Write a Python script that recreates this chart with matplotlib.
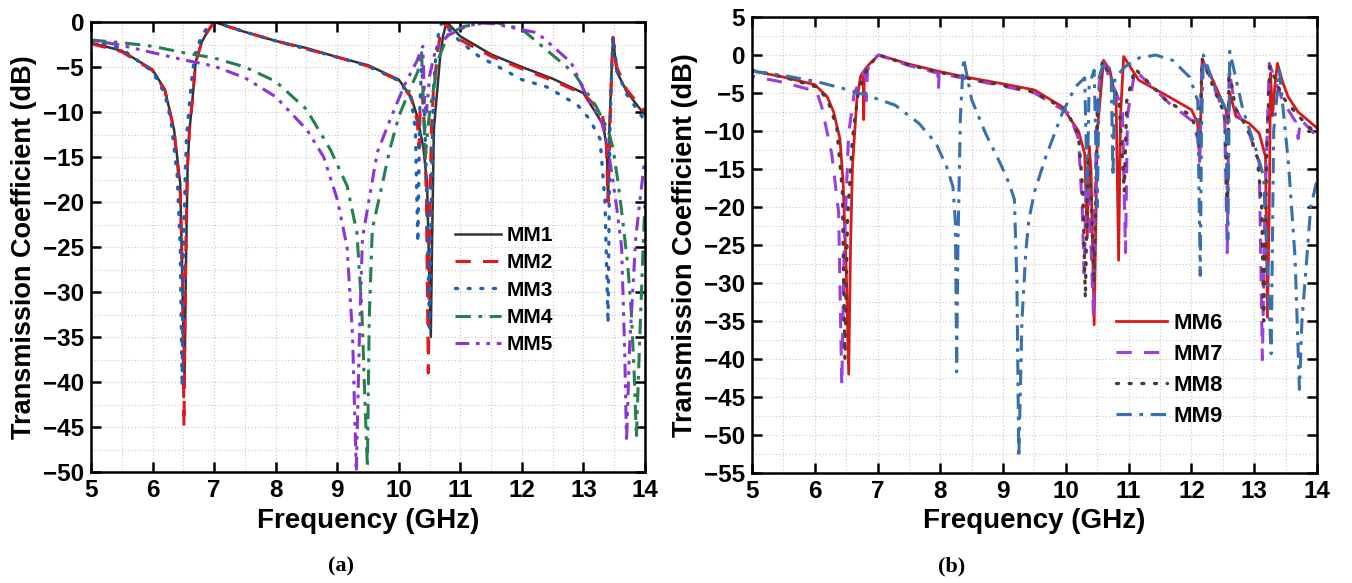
import matplotlib
matplotlib.use("Agg")
import matplotlib.pyplot as plt
from matplotlib.ticker import MultipleLocator

plt.rcParams['font.family'] = ['Liberation Sans', 'DejaVu Sans']
plt.rcParams['font.weight'] = 'bold'

# ---------------- panel (a) ----------------
f_mm1 = [5.0, 5.5, 6.0, 6.2, 6.35, 6.45, 6.52, 6.54, 6.57, 6.6, 6.65, 6.7, 6.8, 6.9, 7.0, 7.5, 8.0,
         8.5, 9.0, 9.5, 10.0, 10.2, 10.3, 10.4, 10.46, 10.52, 10.54, 10.57, 10.6, 10.62, 10.67, 10.72,
         10.78, 11.0, 11.5, 12.0, 12.5, 13.0, 13.32, 13.38, 13.40, 13.42, 13.46, 13.48, 13.54, 13.7,
         13.9, 14.0]
db_mm1 = [-2.3, -3.2, -5.3, -7.5, -12, -18, -40, -28, -16, -12, -8.5, -4.5, -2.2, -1, 0, -1.1, -2.1,
          -2.9, -3.9, -4.8, -6.4, -8.3, -10.5, -14, -18, -35, -25, -12, -9.5, -8, -4, -1.5,
          0, -1.6, -3.6, -5.0, -6.3, -7.9, -11.4, -14, -20, -12, -5, -1.7, -5.5, -7.7,
          -9.5, -10.3]

f_mm2 = [5.0, 5.5, 6.0, 6.2, 6.35, 6.45, 6.49, 6.51, 6.53, 6.56, 6.6, 6.65, 6.7, 6.8, 6.9, 7.0, 7.5,
         8.0, 8.5, 9.0, 9.5, 10.0, 10.2, 10.3, 10.33, 10.35, 10.38, 10.42, 10.45, 10.48, 10.5, 10.53,
         10.56, 10.62, 10.67, 10.72, 11.0, 11.5, 12.0, 12.5, 13.0, 13.3, 13.37, 13.40, 13.43, 13.46,
         13.48, 13.54, 13.7, 14.0]
db_mm2 = [-2.4, -3.3, -5.4, -7.6, -12, -19, -30, -45, -30, -17, -12, -8.5, -4.5, -2.2, -1, 0, -1.1,
          -2.1, -3.0, -3.9, -4.9, -6.5, -8.4, -11, -14, -9, -8, -12, -20, -39, -22, -12,
          -8, -4, -1.5, 0, -2.0, -3.8, -5.2, -6.5, -8.0, -10, -13, -20, -12, -5,
          -1.7, -5, -7.5, -10]

f_mm3 = [5.0, 5.5, 6.0, 6.2, 6.3, 6.4, 6.45, 6.48, 6.5, 6.55, 6.6, 6.65, 6.7, 6.8, 6.9, 7.0, 7.5, 8.0,
         8.5, 9.0, 9.5, 10.0, 10.2, 10.27, 10.31, 10.34, 10.37, 10.41, 10.45, 10.5, 10.53, 10.56,
         10.6, 10.65, 10.7, 11.0, 11.3, 12.0, 12.4, 12.9, 13.1, 13.27, 13.35, 13.40, 13.43, 13.46,
         13.48, 13.55, 13.7, 14.0]
db_mm3 = [-2.0, -3.0, -5.5, -8, -11, -17, -25, -40.5, -25, -13, -9, -5.5, -3.3, -1.5, -0.5, 0, -1.1,
          -2.1, -3.0, -3.9, -4.9, -6.5, -8.5, -12, -24.5, -10, -5, -8, -18, -34, -20, -8,
          -4, -1, 0, -2.2, -3.8, -6.4, -7.2, -9.2, -10.8, -13, -20, -33.5, -12, -5,
          -1.7, -5.5, -8, -11]

f_mm4 = [5.0, 5.5, 6.0, 6.5, 7.0, 7.5, 8.0, 8.5, 8.89, 9.16, 9.32, 9.4, 9.45, 9.49, 9.52, 9.57, 9.7,
         9.86, 10.0, 10.18, 10.31, 10.37, 10.4, 10.43, 10.5, 10.65, 10.8, 11.05, 11.3, 11.6, 12.0,
         12.4, 12.85, 13.2, 13.4, 13.48, 13.56, 13.62, 13.72, 13.78, 13.83, 13.86, 13.91, 13.97, 14.0]
db_mm4 = [-2.0, -2.3, -2.7, -3.4, -4.0, -5.0, -6.6, -9.7, -14.2, -18.2, -23.4, -32, -42, -49.5, -33,
          -23, -19, -14, -10.5, -7.5, -5.5, -3.2, -9, -15, -10, -4, -1.4, -0.5, -0.2, -0.1, -0.8,
          -3.1, -5.7, -9.3, -12, -14, -17.7, -21, -27, -32.5, -40, -46.2, -36, -25, -20]

f_mm5 = [5.0, 5.01, 5.5, 6.0, 6.5, 7.0, 7.5, 8.0, 8.51, 8.78, 9.0, 9.16, 9.25, 9.31, 9.36, 9.41, 9.65,
         9.88, 10.1, 10.29, 10.39, 10.42, 10.45, 10.5, 10.6, 10.8, 11.06, 11.3, 11.55, 12.25, 12.8,
         13.0, 13.3, 13.4, 13.54, 13.62, 13.67, 13.70, 13.75, 13.85, 13.91, 14.0]
db_mm5 = [-5.0, -2.0, -2.6, -3.4, -4.2, -4.9, -6.2, -8.3, -12, -15, -19.7, -25, -35, -50, -35, -24,
          -14.5, -10.5, -6.9, -4.4, -2.7, -9, -10, -6, -3, -1.5, -0.6, -0.1, -0.2, -1.2, -4.5,
          -7.5, -11.2, -14, -20.6, -25, -36.6, -46.6, -36, -24, -20.3, -15]

# ---------------- panel (b) ----------------
f_mm6 = [5.0, 5.5, 6.0, 6.2, 6.3, 6.4, 6.45, 6.5, 6.54, 6.57, 6.6, 6.67, 6.73, 6.77, 6.78, 6.79, 6.88,
         7.02, 7.5, 8.0, 8.4, 9.0, 9.5, 9.94, 10.2, 10.3, 10.34, 10.37, 10.4, 10.45, 10.5, 10.6,
         10.7, 10.8, 10.84, 10.87, 10.92, 11.16, 11.64, 12.0, 12.1, 12.13, 12.17, 12.34, 12.55, 12.58,
         12.61, 12.71, 12.92, 13.08, 13.18, 13.21, 13.24, 13.26, 13.29, 13.33, 13.37, 13.45, 13.54,
         13.7, 14.0]
db_mm6 = [-2.1, -2.9, -3.9, -5.5, -7.5, -11, -16.5, -28, -42, -25, -14.7, -5.9, -2.8, -2.2, -8.5, -2.0,
          -1.1, 0, -1.2, -2.2, -2.9, -3.8, -4.6, -6.8, -10, -13, -24, -12, -15, -35.5, -10, -0.7,
          -2, -6, -27, -8, -0.2, -3.3, -5.5, -7.2, -9, -14, -0.7, -3.3, -7.2, -9,
          -5, -8.1, -9, -10.3, -13.4, -34.5, -20, -2.4, -8, -4, -1.1, -3.5, -5.5,
          -7.5, -9.6]

f_mm7 = [5.0, 5.01, 5.5, 6.03, 6.11, 6.27, 6.38, 6.43, 6.47, 6.54, 6.63, 6.8, 6.82, 6.84, 6.92, 7.02,
         7.5, 7.96, 7.97, 7.98, 8.4, 9.0, 9.5, 10.05, 10.2, 10.26, 10.29, 10.33, 10.38, 10.44, 10.46,
         10.5, 10.58, 10.7, 10.9, 10.95, 10.98, 11.1, 11.64, 12.0, 12.1, 12.13, 12.17, 12.44, 12.53,
         12.57, 12.6, 12.7, 12.92, 13.08, 13.13, 13.17, 13.24, 13.45, 13.66, 13.7, 13.74, 14.0]
db_mm7 = [-4.5, -2.8, -3.6, -4.8, -6.8, -13, -20.7, -43.5, -25, -10.3, -5, -2, -6, -2, -0.5, 0,
          -1.4, -2.4, -4.5, -2.4, -3.1, -4.1, -5.0, -7.7, -11, -20, -28.7, -15, -20, -34.5, -20,
          -6, -0.7, -3, -7, -26, -8, -2, -6.3, -8.6, -11, -14, -0.4, -5.9, -8.4,
          -26, -2, -7, -10.3, -14.2, -40.1, -20, -1.1, -6, -8.8, -11, -8.5, -10.7]

f_mm8 = [5.0, 5.5, 6.03, 6.2, 6.35, 6.44, 6.48, 6.52, 6.6, 6.7, 6.85, 7.02, 7.5, 8.0, 8.4, 9.0, 9.5,
         10.0, 10.2, 10.27, 10.31, 10.35, 10.4, 10.45, 10.5, 10.58, 10.7, 10.85, 10.93, 10.97, 11.1,
         11.6, 12.0, 12.1, 12.13, 12.17, 12.4, 12.53, 12.57, 12.6, 12.7, 12.9, 13.05, 13.12, 13.15,
         13.2, 13.25, 13.45, 13.7, 14.0]
db_mm8 = [-2.0, -2.9, -4.2, -5.8, -9.5, -18, -40, -22, -11, -4.5, -1.5, 0, -1.3, -2.3, -3.0, -4.0, -4.9,
          -7.2, -10.5, -18, -32, -14, -18, -30, -8, -0.8, -2.5, -6.5, -18, -6, -1.8,
          -6, -8, -10.5, -12, -0.5, -5.3, -7.8, -20, -2, -7, -9.8, -13.5, -20, -35,
          -12, -1.5, -5.5, -8, -10.5]

f_mm9 = [5.0, 5.5, 6.03, 6.54, 6.9, 7.28, 7.66, 7.93, 8.1, 8.2, 8.24, 8.26, 8.28, 8.32, 8.37, 8.5,
         8.72, 8.98, 9.1, 9.18, 9.22, 9.25, 9.3, 9.36, 9.41, 9.5, 9.68, 9.94, 10.15, 10.3, 10.34,
         10.37, 10.45, 10.5, 10.53, 10.6, 10.72, 10.75, 10.78, 10.95, 11.16, 11.43, 11.7, 11.97, 12.1,
         12.14, 12.16, 12.19, 12.39, 12.55, 12.58, 12.61, 12.82, 13.03, 13.15, 13.22, 13.27, 13.31,
         13.4, 13.55, 13.65, 13.72, 13.76, 13.9, 14.0]
db_mm9 = [-2.1, -2.7, -3.5, -4.6, -5.5, -6.6, -9, -11.6, -14.7, -17.3, -22, -41.7, -25, -8, -0.4,
          -5.9, -10.3, -14.7, -17, -19, -30, -53, -35, -26, -21.7, -18, -13.4, -7.7, -4.2, -3, -18,
          -4, -2, -20, -3, -1, -2, -16, -3, -1.5, -0.4, 0, -0.7, -2.9, -6,
          -29, -10, 0, -4.6, -7.2, -24.3, 0.5, -7.2, -12.5, -16, -30, -39.3, -10,
          -2, -14.7, -26.6, -44, -35, -20, -16.5]

W, H = 1352, 583
fig = plt.figure(figsize=(W / 100, H / 100), dpi=100)

ax1 = fig.add_axes([91 / W, 1 - 472 / H, 554 / W, 450 / H])
ax2 = fig.add_axes([752 / W, 1 - 473 / H, 565 / W, 456 / H])

ax1.plot(f_mm1, db_mm1, color='#333333', lw=1.8, label='MM1')
ax1.plot(f_mm2, db_mm2, color='#e3161c', lw=2.2, ls=(0, (5, 4)), label='MM2')
ax1.plot(f_mm3, db_mm3, color='#1f5fb4', lw=2.4, ls=(0, (0.6, 3.2)), dash_capstyle='round', label='MM3')
ax1.plot(f_mm4, db_mm4, color='#25804f', lw=2.2, ls=(0, (5, 2.5, 1.2, 2.5)), label='MM4')
ax1.plot(f_mm5, db_mm5, color='#8b35d9', lw=2.2, ls=(0, (4.5, 2.2, 1.2, 2.2, 1.2, 2.2)), label='MM5')

ax2.plot(f_mm6, db_mm6, color='#d7191c', lw=2.0, label='MM6')
ax2.plot(f_mm7, db_mm7, color='#9a3fe0', lw=2.2, ls=(0, (5, 4)), label='MM7')
ax2.plot(f_mm8, db_mm8, color='#4f3a33', lw=2.4, ls=(0, (0.6, 3.2)), dash_capstyle='round', label='MM8')
ax2.plot(f_mm9, db_mm9, color='#3671ad', lw=2.2, ls=(0, (5, 2.5, 1.2, 2.5)), label='MM9')

for ax, ymin, ymax in [(ax1, -50, 0), (ax2, -55, 5)]:
    ax.set_xlim(5, 14)
    ax.set_ylim(ymin, ymax)
    ax.xaxis.set_major_locator(MultipleLocator(1))
    ax.xaxis.set_minor_locator(MultipleLocator(0.5))
    ax.yaxis.set_major_locator(MultipleLocator(5))
    ax.yaxis.set_minor_locator(MultipleLocator(2.5))
    ax.grid(True, which='both', ls=(0, (1, 2)), color='#c8c8c8', lw=0.8)
    ax.tick_params(which='major', direction='in', top=True, right=True, length=7, width=1.8,
                   labelsize=17.5, pad=5)
    ax.tick_params(which='minor', length=0)
    for sp in ax.spines.values():
        sp.set_linewidth(1.8)
    for lab in ax.get_xticklabels() + ax.get_yticklabels():
        lab.set_fontweight('bold')
    ax.set_xlabel('Frequency (GHz)', fontsize=20, fontweight='bold', labelpad=4)
    ax.set_ylabel('Transmission Coefficient (dB)', fontsize=19.5, fontweight='bold', labelpad=4)

ax1.legend(loc='upper left', bbox_to_anchor=(0.642, 0.565), frameon=False, fontsize=15,
           handlelength=2.2, handletextpad=0.3, labelspacing=0.4, borderaxespad=0)
ax2.legend(loc='upper left', bbox_to_anchor=(0.628, 0.37), frameon=False, fontsize=16,
           handlelength=2.3, handletextpad=0.3, labelspacing=0.45, borderaxespad=0)

fig.text(341 / W, 1 - 566 / H, '(a)', fontsize=16, fontweight='bold', family='Liberation Serif',
         ha='center', va='center')
fig.text(952 / W, 1 - 566 / H, '(b)', fontsize=16, fontweight='bold', family='Liberation Serif',
         ha='center', va='center')

fig.savefig('out.png', dpi=100)
